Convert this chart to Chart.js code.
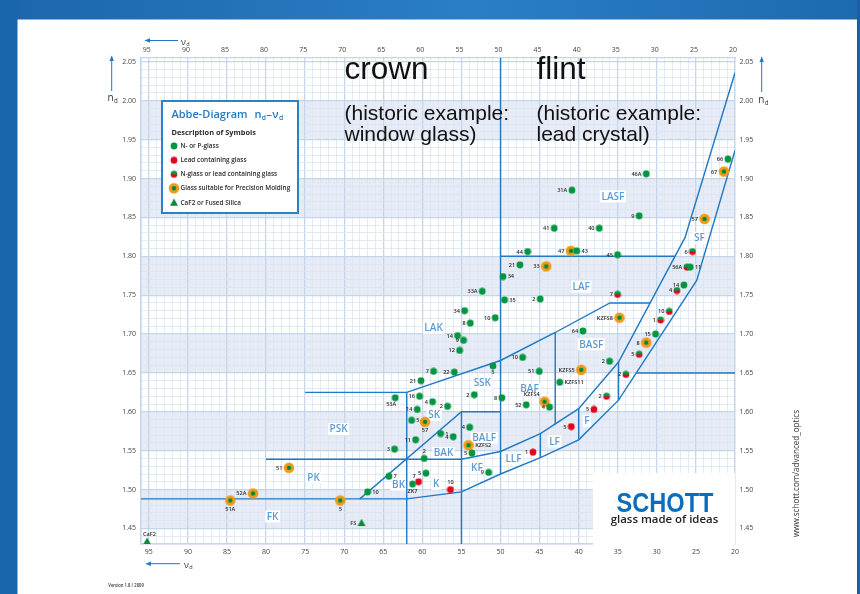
<!DOCTYPE html>
<html><head><meta charset="utf-8">
<script src="https://cdn.jsdelivr.net/npm/chart.js@4.4.1/dist/chart.umd.min.js"></script>
<style>html,body{margin:0;padding:0;background:#fff}canvas{display:block}</style>
</head><body><canvas id="c" width="860" height="594"></canvas>
<script>
// ================= DATA =================
// Abbe number axis (nu_d) and refractive index axis (n_d)
const xTickLabels = [95, 90, 85, 80, 75, 70, 65, 60, 55, 50, 45, 40, 35, 30, 25, 20];
const yTickLabels = ['2.05','2.00','1.95','1.90','1.85','1.80','1.75','1.70','1.65','1.60','1.55','1.50','1.45'];

// N- or P-glass (green)
const greenLabels = ['66','46A','31A','9','41','40','44','43','45','21','34','11','14','2','35','33A','34','10','8','64','15','14','9','12','2','10','51','KZFS11','5','7','22','21','53A','16','4','2','2','8','52','4','14','5','1','4','11','4','5','3','2','9','7','5','ZK7','10'];
const greenNu = [20.91,31.36,40.86,32.26,43.13,37.37,46.54,40.25,35.03,47.52,49.69,25.73,26.54,44.92,49.49,52.34,54.60,50.68,53.87,39.46,30.17,55.50,54.73,55.24,36.05,47.18,45.05,42.43,50.97,58.57,55.92,60.18,63.47,60.36,58.70,56.78,53.36,49.82,46.71,43.73,60.66,61.38,57.67,56.05,60.87,53.96,53.66,63.56,59.76,51.53,64.28,59.54,61.26,67.01];
const greenNd = [1.925,1.906,1.885,1.852,1.836,1.836,1.806,1.807,1.802,1.789,1.774,1.786,1.763,1.745,1.744,1.755,1.730,1.721,1.714,1.704,1.700,1.698,1.692,1.679,1.665,1.670,1.652,1.638,1.659,1.652,1.651,1.640,1.618,1.620,1.613,1.607,1.622,1.618,1.609,1.606,1.603,1.589,1.572,1.568,1.564,1.580,1.547,1.552,1.540,1.522,1.517,1.521,1.507,1.497];

// Lead containing glass (red)
const redLabels = ['5','5','1','7','10'];
const redNu = [38.05,40.95,45.85,60.49,56.41];
const redNd = [1.603,1.581,1.548,1.510,1.500];

// N-glass or lead containing glass (half green / half red)
const halfLabels = ['6','56A','4','7','10','1','5','2','2'];
const halfNu = [25.44,26.15,27.43,35.03,28.42,29.53,32.26,33.96,36.44];
const halfNd = [1.806,1.786,1.756,1.751,1.729,1.718,1.674,1.648,1.620];

// Glass suitable for Precision Molding (orange ring)
const moldLabels = ['67','57','47','33','KZFS8','8','KZFS5','KZFS4','57','KZFS2','51','52A','51A','5'];
const moldNu = [21.42,23.90,40.99,44.15,34.78,31.36,39.67,44.37,59.67,54.09,77.07,81.67,84.58,70.50];
const moldNd = [1.909,1.848,1.807,1.787,1.721,1.689,1.654,1.613,1.587,1.557,1.528,1.495,1.486,1.486];

// CaF2 or Fused Silica (triangle)
const triLabels = ['FS','CaF2'];
const triNu = [67.78,95.23];
const triNd = [1.457,1.433];

// Glass family regions
const regionNames = ['LASF','SF','LAF','LAK','BASF','SSK','BAF','SK','PSK','BALF','BAK','LF','F','LLF','KF','PK','BK','K','FK'];
const regionNu = [35.62,24.54,39.68,58.57,38.40,52.33,46.29,58.49,70.72,52.09,57.29,43.09,38.95,48.34,53.02,73.93,63.05,58.24,79.17];
const regionNd = [1.877,1.8235,1.761,1.708,1.687,1.637,1.6294,1.596,1.578,1.5665,1.547,1.562,1.588,1.540,1.5287,1.5158,1.5064,1.5073,1.4653];

// Region boundary lines: [nu_d, n_d] vertices
const lineFK   = [[96,1.488],[62,1.488]];
const lineBK   = [[68,1.488],[55,1.600],[50,1.600]];
const linePK   = [[80,1.539],[55,1.539]];
const lineSK   = [[75,1.625],[62,1.625],[50,1.666],[43,1.702],[36,1.740],[30.86,1.740]];
const line62   = [[62,1.625],[62,1.43]];
const line55   = [[55,1.600],[55,1.43]];
const line50   = [[50,2.055],[50,1.520]];
const line43   = [[43,1.702],[43,1.584]];
const lineLAF  = [[50,1.800],[27.65,1.800]];
const lineLow  = [[62,1.488],[55,1.497],[50,1.520],[44.9,1.541],[40,1.564],[34.9,1.615],[24.9,1.769],[20,1.936]];
const lineUp   = [[55,1.539],[50,1.549],[44.9,1.572],[40,1.604],[34.9,1.664],[26.4,1.824],[20,2.036]];
const line449  = [[44.9,1.572],[44.9,1.541]];
const line40   = [[40,1.604],[40,1.564]];
const line349  = [[34.9,1.664],[34.9,1.615]];
const line165  = [[32.63,1.650],[20,1.650]];

// ================= LAYOUT / STYLE =================
const greenSides = ['l','l','l','l','l','l','l','r','l','l','r','r','l','l','r','l','l','l','l','l','l','l','l','l','l','l','l','r','b','l','l','l','bl','l','l','l','l','l','l','l','l','r','r','l','l','l','l','l','t','l','r','l','b','r'];
const redSides = ['l','l','l','tl','t'];
const halfSides = ['l','l','l','l','l','l','l','l','l'];
const moldSides = ['l','l','l','l','l','l','l','tl','b','r','l','l','b','b'];
const triSides = ['l','tr'];

const GREEN = '#00953f', RED = '#e3051b', ORANGE = '#f39a16', BLUE = '#1f79c4', RBLUE = '#5b9bd5';
const MINOR = '#dbe5f2', MAJOR = '#c5d5ea', BAND = '#e6ebf6';

function mk(size, fn){ const c=document.createElement('canvas'); c.width=c.height=size; fn(c.getContext('2d'), size/2); return c; }
const greenImg = mk(8,(g,c)=>{g.beginPath();g.arc(c,c,3.4,0,7);g.fillStyle=GREEN;g.fill();});
const redImg = mk(8,(g,c)=>{g.beginPath();g.arc(c,c,3.4,0,7);g.fillStyle=RED;g.fill();});
const halfImg = mk(8,(g,c)=>{g.beginPath();g.arc(c,c,3.4,Math.PI,0);g.closePath();g.fillStyle=GREEN;g.fill();g.beginPath();g.arc(c,c,3.4,0,Math.PI);g.closePath();g.fillStyle=RED;g.fill();});
const moldImg = mk(12,(g,c)=>{g.beginPath();g.arc(c,c,5.3,0,7);g.fillStyle=ORANGE;g.fill();g.beginPath();g.arc(c,c,2.3,0,7);g.fillStyle=GREEN;g.fill();g.beginPath();g.arc(c,c,0.8,0,7);g.fillStyle='#0b5a2a';g.fill();});
const triImg = mk(10,(g,c)=>{g.beginPath();g.moveTo(c,c-4.3);g.lineTo(c+4,c+3);g.lineTo(c-4,c+3);g.closePath();g.fillStyle='#0a8a3a';g.fill();});

const pts = (nu, nd) => nu.map((v,i)=>({x:v, y:nd[i]}));
const seg = arr => arr.map(p=>({x:p[0], y:p[1]}));

function pointSet(nu, nd, img, labels, sides, r){
  return {data:pts(nu,nd), pointStyle:img, pointRadius:r, showLine:false, order:0,
          glassLabels:labels, labelSides:sides, markerR:r};
}
function lineSet(arr){
  return {data:seg(arr), showLine:true, pointRadius:0, borderColor:BLUE, borderWidth:1.4, fill:false, tension:0, order:5};
}

const gridX = []; for (let v=20; v<=96; v++) gridX.push(v);
const gridY = []; for (let i=143; i<=205; i++) gridY.push(i/100);
const isMajorY = v => Math.round(v*100)%5===0;

function drawSub(ctx, main, sub, x, y, size, color, weight){
  ctx.fillStyle=color; ctx.textAlign='left'; ctx.textBaseline='alphabetic';
  ctx.font=(weight||'400')+' '+size+'px "Open Sans"';
  ctx.fillText(main,x,y);
  const w=ctx.measureText(main).width;
  ctx.font=(weight||'400')+' '+(size*0.62)+'px "Open Sans"';
  ctx.fillText(sub,x+w+0.3,y+size*0.22);
  return x+w+0.3+ctx.measureText(sub).width;
}
function fitText(ctx, text, x, y, width, font, color){
  ctx.save(); ctx.font=font; ctx.fillStyle=color; ctx.textAlign='left'; ctx.textBaseline='alphabetic';
  const w=ctx.measureText(text).width; ctx.translate(x,y); ctx.scale(width/w,1); ctx.fillText(text,0,0); ctx.restore();
}
function arrowLine(ctx,x1,y1,x2,y2){ // arrowhead at (x2,y2)
  ctx.strokeStyle=BLUE; ctx.fillStyle=BLUE; ctx.lineWidth=1;
  ctx.beginPath(); ctx.moveTo(x1,y1); ctx.lineTo(x2,y2); ctx.stroke();
  const a=Math.atan2(y2-y1,x2-x1), L=4.5, H=2.2;
  ctx.beginPath(); ctx.moveTo(x2+Math.cos(a)*1,y2+Math.sin(a)*1);
  ctx.lineTo(x2-Math.cos(a)*L-Math.sin(a)*H, y2-Math.sin(a)*L+Math.cos(a)*H);
  ctx.lineTo(x2-Math.cos(a)*L+Math.sin(a)*H, y2-Math.sin(a)*L-Math.cos(a)*H);
  ctx.closePath(); ctx.fill();
}

const frame = {
  id:'frame',
  beforeDraw(chart){
    const {ctx, chartArea:a, scales:{y}} = chart;
    ctx.save();
    ctx.fillStyle='#fff'; ctx.fillRect(0,0,860,594);
    const tg=ctx.createLinearGradient(0,0,860,0);
    tg.addColorStop(0,'#1c66ad'); tg.addColorStop(0.55,'#2a7fc4'); tg.addColorStop(1,'#1c6ab0');
    ctx.fillStyle=tg; ctx.fillRect(0,0,860,19.5);
    ctx.fillStyle='#1a66ad'; ctx.fillRect(0,0,17.5,594);
    ctx.fillStyle='#1a5fa6'; ctx.fillRect(857,0,3,594);
    ctx.fillStyle='#fff'; ctx.fillRect(a.left,a.top,a.right-a.left,a.bottom-a.top);
    ctx.fillStyle=BAND;
    [1.45,1.55,1.65,1.75,1.85,1.95].forEach(b=>{
      const y1=y.getPixelForValue(b+0.05), y2=y.getPixelForValue(b);
      ctx.fillRect(a.left,y1,a.right-a.left,y2-y1);
    });
    ctx.restore();
  },
  beforeDatasetsDraw(chart){
    const {ctx, scales:{x,y}} = chart;
    ctx.save();
    ctx.font='600 10px "Open Sans"'; ctx.textAlign='center'; ctx.textBaseline='middle';
    regionNames.forEach((n,i)=>{
      const px=x.getPixelForValue(regionNu[i]), py=y.getPixelForValue(regionNd[i]);
      const w=ctx.measureText(n).width;
      ctx.fillStyle='#fff'; ctx.fillRect(px-w/2-1.5,py-6,w+3,12);
      ctx.fillStyle=RBLUE; ctx.fillText(n,px,py+0.5);
    });
    ctx.restore();
  },
  afterDatasetsDraw(chart){
    const ctx=chart.ctx;
    ctx.save();
    chart.data.datasets.forEach((ds,di)=>{
      if(!ds.glassLabels) return;
      const meta=chart.getDatasetMeta(di);
      ctx.font='600 5.6px "Open Sans"'; ctx.fillStyle='#2b2b2b';
      meta.data.forEach((pt,i)=>{
        const t=ds.glassLabels[i], s=ds.labelSides[i], r=ds.markerR;
        let x=pt.x, y=pt.y, al='right', bl='middle';
        if(s==='l'){ x-=r+1.3; y+=0.4; }
        else if(s==='r'){ x+=r+1.3; al='left'; y+=0.4; }
        else if(s==='t'){ y-=r+0.6; al='center'; bl='bottom'; }
        else if(s==='b'){ y+=r+0.6; al='center'; bl='top'; }
        else if(s==='tl'){ x-=r-0.5; y-=r-0.5; bl='bottom'; }
        else if(s==='bl'){ x+=1; y+=r+0.3; bl='top'; }
        else if(s==='tr'){ x-=r; y-=r+0.6; al='left'; bl='bottom'; }
        ctx.textAlign=al; ctx.textBaseline=bl; ctx.fillText(t,x,y);
      });
    });
    // SCHOTT box
    ctx.fillStyle='#fff'; ctx.fillRect(593,473,142,72);
    fitText(ctx,'SCHOTT',616.5,511.5,97,'700 27px "Liberation Sans"','#0b6dbb');
    fitText(ctx,'glass made of ideas',610.7,522.5,107.5,'600 11px "Open Sans"','#222');
    ctx.restore();
  },
  afterDraw(chart){
    const ctx=chart.ctx;
    ctx.save();
    // big annotations
    ctx.fillStyle='#111'; ctx.textAlign='left'; ctx.textBaseline='alphabetic';
    ctx.font='31.5px "Liberation Sans"';
    ctx.fillText('crown',344.5,79); ctx.fillText('flint',536.5,79);
    ctx.font='21px "Liberation Sans"';
    ctx.fillText('(historic example:',344.5,120); ctx.fillText('window glass)',344.5,141);
    ctx.fillText('(historic example:',536.5,120); ctx.fillText('lead crystal)',536.5,141);
    // legend box
    ctx.fillStyle='#fff'; ctx.fillRect(162,101,136,112);
    ctx.strokeStyle='#2a83c9'; ctx.lineWidth=2; ctx.strokeRect(162,101,136,112);
    ctx.fillStyle='#1f7ac6'; ctx.font='600 11px "Open Sans"'; ctx.textAlign='left';
    ctx.fillText('Abbe-Diagram',171.5,117.5);
    let xe=drawSub(ctx,'n','d',254.5,117.5,11,'#1f7ac6','600');
    ctx.font='600 11px "Open Sans"'; ctx.fillText('–',xe+0.5,117.5);
    drawSub(ctx,'ν','d',xe+0.5+ctx.measureText('–').width+0.3,117.5,11,'#1f7ac6','600');
    ctx.fillStyle='#2a2a2a'; ctx.font='700 7.4px "Open Sans"';
    ctx.fillText('Description of Symbols',171.5,135);
    const items=[[greenImg,'N- or P-glass'],[redImg,'Lead containing glass'],[halfImg,'N-glass or lead containing glass'],[moldImg,'Glass suitable for Precision Molding'],[triImg,'CaF2 or Fused Silica']];
    const iy=[146,160.3,174.3,188.3,202.7];
    items.forEach((it,i)=>{
      const im=it[0];
      ctx.drawImage(im,174-im.width/2,iy[i]-im.height/2);
      ctx.fillStyle='#2a2a2a'; ctx.font='600 6.4px "Open Sans"'; ctx.textBaseline='middle';
      ctx.fillText(it[1],180.5,iy[i]+0.3);
    });
    ctx.textBaseline='alphabetic';
    // axis arrows and titles
    arrowLine(ctx,178,40.5,145.5,40.5);
    drawSub(ctx,'ν','d',181,44.5,9,'#333');
    arrowLine(ctx,180,563.7,146.5,563.7);
    drawSub(ctx,'ν','d',184,567.5,9,'#333');
    arrowLine(ctx,111.7,91,111.7,56.5);
    drawSub(ctx,'n','d',107.5,100.5,10,'#333');
    arrowLine(ctx,761.7,92,761.7,57.5);
    drawSub(ctx,'n','d',758.3,102.5,10,'#333');
    // url (rotated)
    ctx.save(); ctx.translate(799,537); ctx.rotate(-Math.PI/2);
    fitText(ctx,'www.schott.com/advanced_optics',0,0,127,'9px "Open Sans"','#333');
    ctx.restore();
    fitText(ctx,'Version 1.8 / 2009',108.3,587.3,35.5,'600 5px "Open Sans"','#333');
    ctx.restore();
  }
};

const tickFont = {size:7, family:'"Open Sans"'};
const xLabelCb = v => xTickLabels.includes(v) ? String(v) : '';
const yLabelCb = v => yTickLabels.includes(Number(v).toFixed(2)) && isMajorY(v) ? Number(v).toFixed(2) : '';

new Chart(document.getElementById('c'), {
  type:'scatter',
  data:{ datasets:[
    pointSet(greenNu, greenNd, greenImg, greenLabels, greenSides, 3.4),
    pointSet(redNu, redNd, redImg, redLabels, redSides, 3.4),
    pointSet(halfNu, halfNd, halfImg, halfLabels, halfSides, 3.4),
    pointSet(moldNu, moldNd, moldImg, moldLabels, moldSides, 5.3),
    pointSet(triNu, triNd, triImg, triLabels, triSides, 4),
    lineSet(lineFK), lineSet(lineBK), lineSet(linePK), lineSet(lineSK), lineSet(line62), lineSet(line55),
    lineSet(line50), lineSet(line43), lineSet(lineLAF), lineSet(lineLow), lineSet(lineUp),
    lineSet(line449), lineSet(line40), lineSet(line349), lineSet(line165)
  ]},
  options:{
    responsive:false, devicePixelRatio:1, animation:false, events:[],
    layout:{padding:0},
    plugins:{legend:{display:false}, tooltip:{enabled:false}},
    scales:{
      x:{type:'linear', position:'bottom', reverse:true, min:20, max:96,
         afterFit(s){ s.height=50; },
         afterBuildTicks(s){ s.ticks=gridX.map(v=>({value:v})); },
         ticks:{autoSkip:false, maxRotation:0, minRotation:0, padding:3.5, font:tickFont, color:'#444', callback:xLabelCb},
         grid:{drawTicks:false, color:c=>(c.tick && c.tick.value%5===0)?MAJOR:MINOR, lineWidth:c=>(c.tick && c.tick.value%5===0)?1.3:0.8},
         border:{display:true, color:MAJOR, width:1.3}},
      x2:{type:'linear', position:'top', reverse:true, min:20, max:96,
         afterFit(s){ s.height=58; },
         afterBuildTicks(s){ s.ticks=gridX.map(v=>({value:v})); },
         ticks:{autoSkip:false, maxRotation:0, minRotation:0, padding:4, labelOffset:-2, font:tickFont, color:'#444', callback:xLabelCb},
         grid:{display:false, drawTicks:false}, border:{display:true, color:MAJOR, width:1.3}},
      y:{type:'linear', position:'left', min:1.43, max:2.055,
         afterFit(s){ s.width=141; },
         afterBuildTicks(s){ s.ticks=gridY.map(v=>({value:v})); },
         ticks:{autoSkip:false, padding:5, font:tickFont, color:'#444', callback:yLabelCb},
         grid:{drawTicks:false, color:c=>(c.tick && isMajorY(c.tick.value))?MAJOR:MINOR, lineWidth:c=>(c.tick && isMajorY(c.tick.value))?1.3:0.8},
         border:{display:true, color:MAJOR, width:1.3}},
      y2:{type:'linear', position:'right', min:1.43, max:2.055,
         afterFit(s){ s.width=125; },
         afterBuildTicks(s){ s.ticks=gridY.map(v=>({value:v})); },
         ticks:{autoSkip:false, padding:4.5, font:tickFont, color:'#444', callback:yLabelCb},
         grid:{display:false, drawTicks:false}, border:{display:true, color:MAJOR, width:1.3}}
    }
  },
  plugins:[frame]
});
</script></body></html>
